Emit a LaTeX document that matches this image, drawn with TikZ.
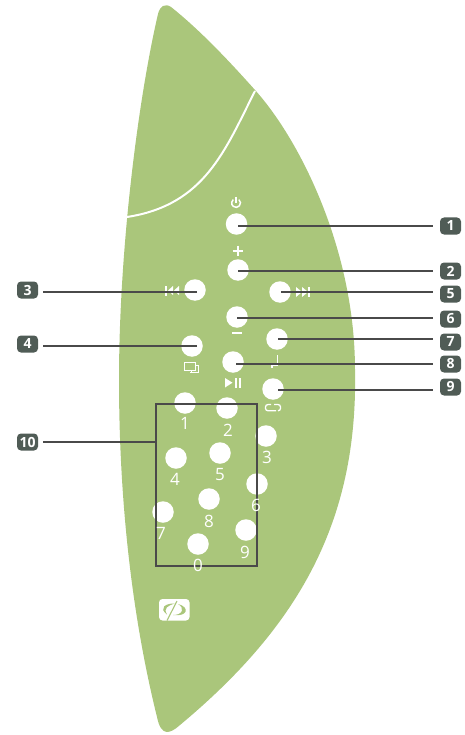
\documentclass[tikz,border=0pt]{standalone}
\usepackage{fontspec}
\setmainfont{Open Sans}
\definecolor{leaf}{HTML}{AAC67B}
\definecolor{badgeclr}{HTML}{505C56}
\definecolor{leadclr}{HTML}{4A4A4A}
\tikzset{
  btn/.style={circle,fill=white,inner sep=0pt,minimum size=21.5pt},
  badge/.style={rectangle,rounded corners=4pt,fill=badgeclr,text=white,inner sep=0pt,minimum width=21pt,minimum height=17pt,font=\fontsize{14}{14}\bfseries\selectfont},
  digit/.style={text=white,inner sep=0pt,font=\fontsize{17}{17}\selectfont},
  lead/.style={draw=leadclr,line width=1.1pt},
  icon/.style={draw=white,line width=1.2pt},
}
\begin{document}
\begin{tikzpicture}[x=1pt,y=-1pt]
\useasboundingbox (0,0) rectangle (464,735);
% body
\fill[leaf] (158,14) .. controls (160,6) and (165,3) .. (171,7)
  .. controls (200,30) and (230,62) .. (255,90)
  .. controls (300,140) and (355,250) .. (355,370)
  .. controls (358,520) and (300,625) .. (180,725)
  .. controls (170,734) and (161,737) .. (157,717)
  .. controls (128,600) and (119,480) .. (119,380)
  .. controls (119,250) and (138,100) .. (158,14) -- cycle;
\draw[white,line width=2pt] (255,91) .. controls (225,150) and (205,205) .. (127,217);
% buttons
\node[btn] (c1) at (236.5,224) {};
\node[btn] (c2) at (238,270) {};
\node[btn] (c3) at (195,290) {};
\node[btn] (c4) at (192,346) {};
\node[btn] (c5) at (280,292) {};
\node[btn] (c6) at (237,317) {};
\node[btn] (c7) at (277,339) {};
\node[btn] (c8) at (233,362) {};
\node[btn] (c9) at (273,389) {};
\node[btn] (d1) at (185,403) {};
\node[btn] (d2) at (227,408) {};
\node[btn] (d3) at (266,436) {};
\node[btn] (d4) at (176,458) {};
\node[btn] (d5) at (220,453) {};
\node[btn] (d6) at (257,484) {};
\node[btn] (d7) at (163,512) {};
\node[btn] (d8) at (209,499) {};
\node[btn] (d9) at (246,530) {};
\node[btn] (d0) at (198,544) {};
% icons
\draw[icon,line width=1.5pt] (238.9,199.6) arc[start angle=-50,delta angle=280,radius=4.4];
\draw[icon,line width=1.5pt] (236,197) -- (236,203);
\draw[icon,line width=2pt] (232.5,250.5) -- (242.5,250.5) (237.5,245.5) -- (237.5,255.5);
\draw[icon,line width=2pt] (232,332.5) -- (242,332.5);
% prev
\fill[white] (173,286) -- (173,295) -- (168,290.5) -- cycle;
\fill[white] (179,286) -- (179,295) -- (174,290.5) -- cycle;
\fill[white] (165,285.5) rectangle (166.6,295.5);
% next
\fill[white] (296,287) -- (296,297) -- (302,292) -- cycle;
\fill[white] (302,287) -- (302,297) -- (308,292) -- cycle;
\fill[white] (308.2,286.5) rectangle (309.8,297);
% 7 icon
\draw[icon,line width=1.3pt] (277.5,355) -- (277.5,365.5) -- (272,365.5) -- (272,368);
% play/pause
\fill[white] (225,378) -- (225,387.5) -- (232.5,382.7) -- cycle;
\fill[white] (234.8,378) rectangle (236.8,387.5);
\fill[white] (238.8,378) rectangle (240.8,387.5);
% windows
\draw[icon,line width=0.8pt] (184.5,362.5) rectangle (195,370);
\draw[icon,line width=0.8pt] (195,365) -- (198,365) -- (198,372.5) -- (190,372.5) (191,372.5) -- (191,370);
% repeat
\draw[icon,rounded corners=2.5pt,line width=1.3pt] (271,404.5) -- (265.5,404.5) -- (265.5,410.8) -- (276,410.8);
\draw[icon,rounded corners=2.5pt,line width=1.3pt] (274,404.5) -- (280.5,404.5) -- (280.5,410.8) -- (278,410.8);
% logo
\fill[white,rounded corners=3.5pt] (159,599) rectangle (189.5,620.5);
\fill[leaf] (175,603.5) .. controls (166,603) and (158,608) .. (167,614.5) .. controls (163,608) and (168,605.5) .. (175,603.5) -- cycle;
\fill[leaf] (178,604) .. controls (190,607) and (188,617) .. (173,615) .. controls (183,615) and (185,608) .. (178,604) -- cycle;
\draw[leaf,line width=1.1pt] (177,601) -- (167,620.5);
% digit box
\node[draw=leadclr,line width=1.1pt,inner sep=0pt,minimum width=101pt,minimum height=162pt] (box) at (206.5,485) {};
% digits
\node[digit] (l1) at (185,423) {1};
\node[digit] (l2) at (228,430) {2};
\node[digit] (l3) at (267,457) {3};
\node[digit] (l4) at (175,479) {4};
\node[digit] (l5) at (220,475) {5};
\node[digit] (l6) at (256,505) {6};
\node[digit] (l7) at (161,533) {7};
\node[digit] (l8) at (209,521) {8};
\node[digit] (l9) at (245,552) {9};
\node[digit] (l0) at (198,565) {0};
% badges
\node[badge] (b1) at (450.5,226) {1};
\node[badge] (b2) at (450.5,271) {2};
\node[badge] (b3) at (27.5,290) {3};
\node[badge] (b4) at (27.5,344) {4};
\node[badge] (b5) at (450.5,294) {5};
\node[badge] (b6) at (450.5,319) {6};
\node[badge] (b7) at (450.5,342) {7};
\node[badge] (b8) at (450.5,364) {8};
\node[badge] (b9) at (450.5,387) {9};
\node[badge] (b10) at (27.5,442) {10};
% lead ends
\coordinate (t1) at (238,226);
\coordinate (t2) at (238,271);
\coordinate (t3) at (197,292);
\coordinate (t4) at (197,346);
\coordinate (t5) at (281,292);
\coordinate (t6) at (237,318);
\coordinate (t7) at (278,339);
\coordinate (t8) at (236,364);
\coordinate (t9) at (278,390);
\draw[lead,shorten >=6.5pt] (t1) -- (t1 -| b1.west);
\draw[lead,shorten >=6.5pt] (t2) -- (t2 -| b2.west);
\draw[lead,shorten >=5pt] (t3) -- (t3 -| b3.east);
\draw[lead,shorten >=5pt] (t4) -- (t4 -| b4.east);
\draw[lead,shorten >=6.5pt] (t5) -- (t5 -| b5.west);
\draw[lead,shorten >=7pt] (t6) -- (t6 -| b6.west);
\draw[lead,shorten >=7pt] (t7) -- (t7 -| b7.west);
\draw[lead,shorten >=7pt] (t8) -- (t8 -| b8.west);
\draw[lead,shorten >=7pt] (t9) -- (t9 -| b9.west);
\draw[lead,shorten <=5pt] (b10.east) -- (b10.east -| box.west);
\end{tikzpicture}
\end{document}
